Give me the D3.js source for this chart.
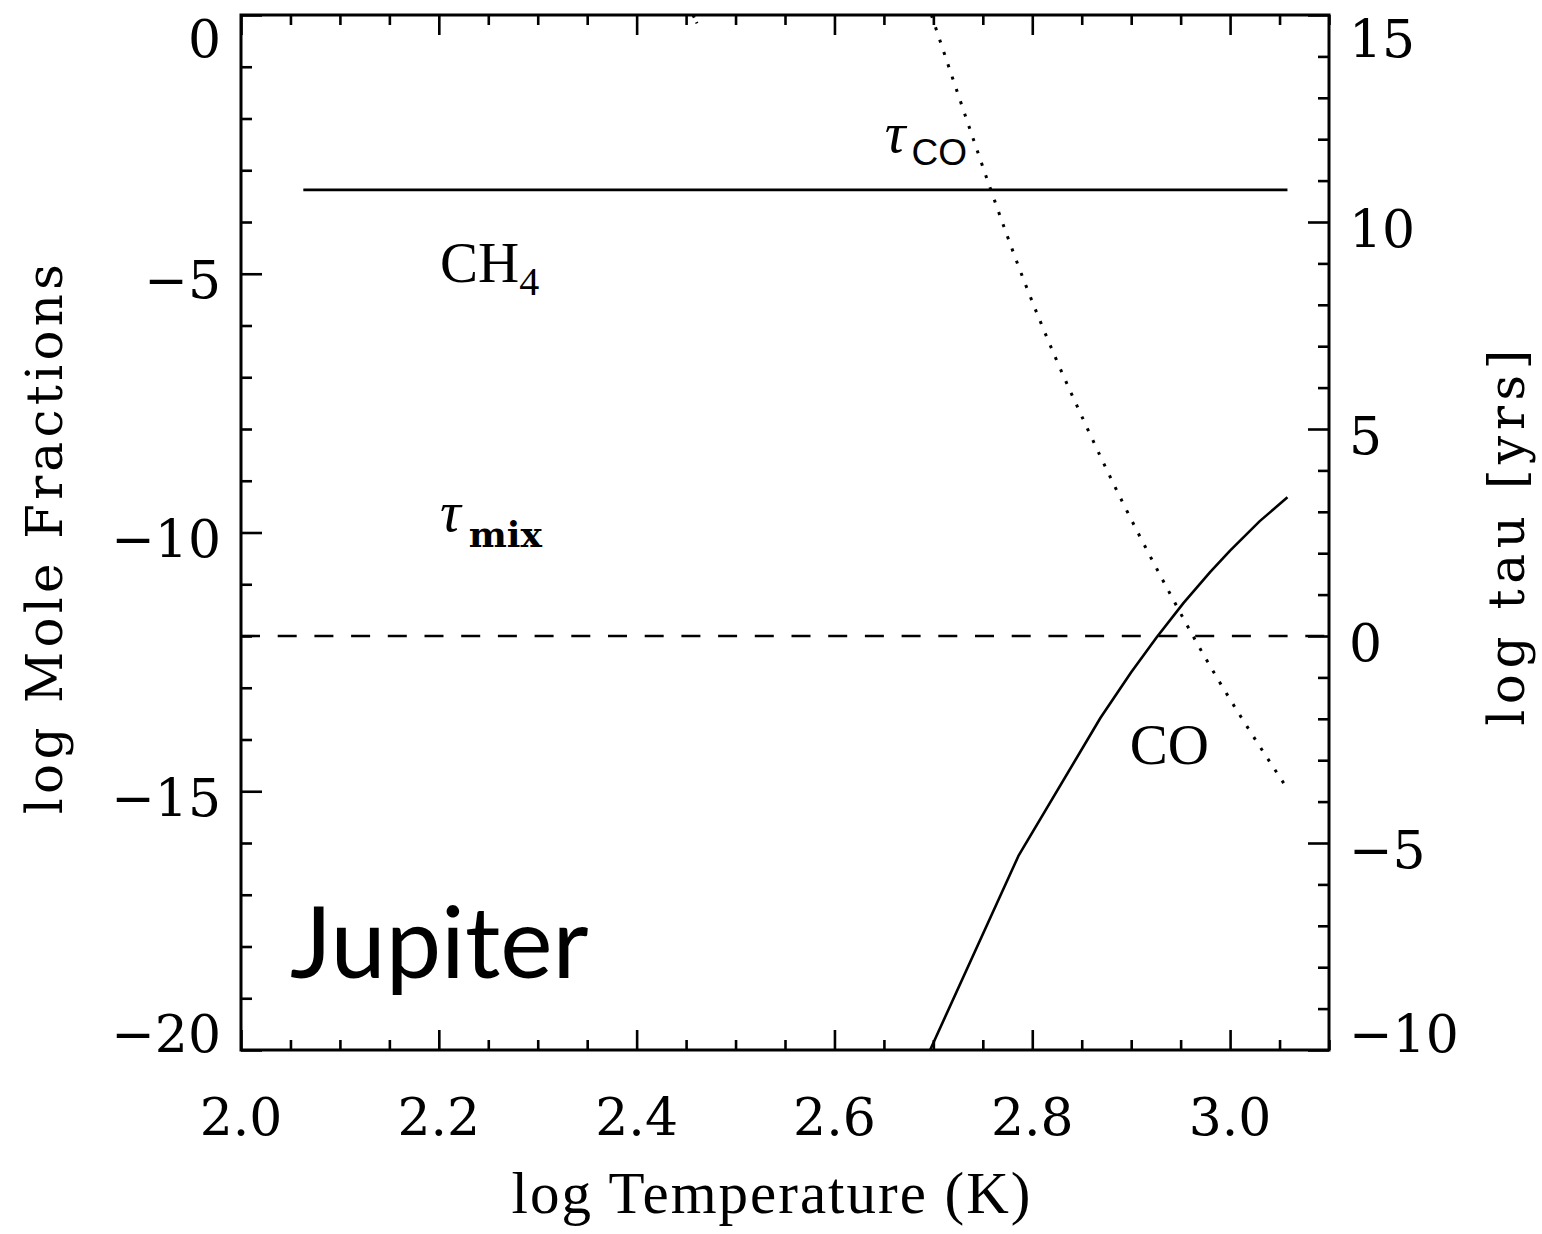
<!DOCTYPE html>
<html>
<head>
<meta charset="utf-8">
<script src="https://cdn.jsdelivr.net/npm/d3@7"></script>
<style>
  html, body { margin: 0; padding: 0; background: #fff; }
  svg { display: block; }
</style>
</head>
<body>
<svg id="chart" width="1542" height="1234"></svg>
<script>
// log T grid and mole fractions / timescales
const ch4T = [2.063, 3.058];
const ch4Frac = [-3.38, -3.38];

const coT = [2.6967, 2.786, 2.869, 2.900, 2.926, 2.953, 2.980, 3.000, 3.030, 3.058];
const coFrac = [-20.0, -16.25, -13.58, -12.70, -12.02, -11.36, -10.76, -10.35, -9.78, -9.32];

const tauCoT = [2.698, 2.744, 2.757, 2.793, 2.823, 2.855, 2.876, 2.942, 2.966, 3.056];
const tauCoLog = [15.0, 11.75, 10.85, 8.50, 6.75, 5.05, 3.98, 0.90, -0.15, -3.62];

const tauCh4T = [2.457, 2.461];
const tauCh4Log = [15.0, 14.8];

const tauMixT = [2.0, 3.1];
const tauMixLog = [0, 0];

const xTicks = [2.0, 2.2, 2.4, 2.6, 2.8, 3.0];
const xTickLabels = ["2.0", "2.2", "2.4", "2.6", "2.8", "3.0"];
const yLeftTicks = [0, -5, -10, -15, -20];
const yLeftLabels = ["0", "\u22125", "\u221210", "\u221215", "\u221220"];
const yRightTicks = [15, 10, 5, 0, -5, -10];
const yRightLabels = ["15", "10", "5", "0", "\u22125", "\u221210"];

const svg = d3.select("#chart");
const L = 241, R = 1329, T = 15, B = 1050;

const x = d3.scaleLinear().domain([2.0, 3.1]).range([L, R]);
const yL = d3.scaleLinear().domain([-20, 0]).range([B, T]);
const yR = d3.scaleLinear().domain([-10, 15]).range([B, T]);

svg.append("rect").attr("width", 1542).attr("height", 1234).attr("fill", "#fff");

svg.append("defs").append("clipPath").attr("id", "plotclip")
  .append("rect").attr("x", L).attr("y", T).attr("width", R - L).attr("height", B - T);

const tickFont = "'DejaVu Serif', serif";
const eps = 1e-9;
const xMinor = d3.range(2.0, 3.1 + eps, 0.05).filter(v => Math.abs(v / 0.2 - Math.round(v / 0.2)) > 1e-6);
const yLMinor = d3.range(-20, 0 + eps, 1).filter(v => v % 5 !== 0);
const yRMinor = d3.range(-10, 15 + eps, 1).filter(v => v % 5 !== 0);

function styleAxis(g) {
  g.select(".domain").remove();
  g.selectAll(".tick line").attr("stroke", "#000").attr("stroke-width", 2.6);
  g.selectAll(".tick text").remove();
}

// bottom and top axes (ticks inward)
svg.append("g").attr("transform", `translate(0,${B})`)
  .call(d3.axisBottom(x).tickValues(xTicks).tickSize(-20)).call(styleAxis);
svg.append("g").attr("transform", `translate(0,${B})`)
  .call(d3.axisBottom(x).tickValues(xMinor).tickSize(-10)).call(styleAxis);
svg.append("g").attr("transform", `translate(0,${T})`)
  .call(d3.axisTop(x).tickValues(xTicks).tickSize(-20)).call(styleAxis);
svg.append("g").attr("transform", `translate(0,${T})`)
  .call(d3.axisTop(x).tickValues(xMinor).tickSize(-10)).call(styleAxis);

// left axis (mole fractions)
svg.append("g").attr("transform", `translate(${L},0)`)
  .call(d3.axisLeft(yL).tickValues(yLeftTicks).tickSize(-21)).call(styleAxis);
svg.append("g").attr("transform", `translate(${L},0)`)
  .call(d3.axisLeft(yL).tickValues(yLMinor).tickSize(-11)).call(styleAxis);

// right axis (timescales)
svg.append("g").attr("transform", `translate(${R},0)`)
  .call(d3.axisRight(yR).tickValues(yRightTicks).tickSize(-21)).call(styleAxis);
svg.append("g").attr("transform", `translate(${R},0)`)
  .call(d3.axisRight(yR).tickValues(yRMinor).tickSize(-11)).call(styleAxis);

// frame
svg.append("rect").attr("x", L).attr("y", T).attr("width", R - L).attr("height", B - T)
  .attr("fill", "none").attr("stroke", "#000").attr("stroke-width", 3);

// tick labels, end labels kept inside the frame height
const clampY = v => Math.max(T + 22, Math.min(B - 18, v + 5)) + 19.5;

svg.append("g").selectAll("text").data(xTicks).join("text")
  .attr("x", d => x(d)).attr("y", 1135)
  .attr("text-anchor", "middle")
  .style("font-family", tickFont).style("font-size", "52px")
  .text((d, i) => xTickLabels[i]);

svg.append("g").selectAll("text").data(yLeftTicks).join("text")
  .attr("x", 221).attr("y", d => clampY(yL(d)))
  .attr("text-anchor", "end")
  .style("font-family", tickFont).style("font-size", "52px")
  .text((d, i) => yLeftLabels[i]);

svg.append("g").selectAll("text").data(yRightTicks).join("text")
  .attr("x", 1349).attr("y", d => clampY(yR(d)))
  .attr("text-anchor", "start")
  .style("font-family", tickFont).style("font-size", "52px")
  .text((d, i) => yRightLabels[i]);

// axis titles
svg.append("text")
  .attr("x", (L + R) / 2 - 13).attr("y", 1213)
  .attr("text-anchor", "middle")
  .style("font-family", "'Liberation Serif', 'Times New Roman', serif")
  .style("font-size", "59px").style("letter-spacing", "2px")
  .text("log Temperature (K)");

svg.append("text")
  .attr("transform", "translate(62,537) rotate(-90)")
  .attr("text-anchor", "middle")
  .style("font-family", tickFont).style("font-size", "50px").style("letter-spacing", "4.3px")
  .text("log Mole Fractions");

svg.append("text")
  .attr("transform", "translate(1524,535) rotate(-90)")
  .attr("text-anchor", "middle")
  .style("font-family", tickFont).style("font-size", "50px").style("letter-spacing", "5.6px")
  .text("log tau [yrs]");

// data curves
const plot = svg.append("g").attr("clip-path", "url(#plotclip)");
const lineL = d3.line().x(d => x(d[0])).y(d => yL(d[1]));
const lineR = d3.line().x(d => x(d[0])).y(d => yR(d[1]));
const lineRsmooth = d3.line().x(d => x(d[0])).y(d => yR(d[1])).curve(d3.curveMonotoneX);

plot.append("path").datum(d3.zip(ch4T, ch4Frac))
  .attr("d", lineL).attr("fill", "none").attr("stroke", "#000").attr("stroke-width", 2.6);

plot.append("path").datum(d3.zip(coT, coFrac))
  .attr("d", lineL).attr("fill", "none").attr("stroke", "#000").attr("stroke-width", 2.6)
  .attr("stroke-linejoin", "round");

plot.append("path").datum(d3.zip(tauMixT, tauMixLog))
  .attr("d", lineR).attr("fill", "none").attr("stroke", "#000").attr("stroke-width", 2.6)
  .attr("stroke-dasharray", "19 17.7");

plot.append("path").datum(d3.zip(tauCoT, tauCoLog))
  .attr("d", lineRsmooth).attr("fill", "none").attr("stroke", "#000").attr("stroke-width", 3)
  .attr("stroke-dasharray", "3 10");

plot.append("path").datum(d3.zip(tauCh4T, tauCh4Log))
  .attr("d", lineR).attr("fill", "none").attr("stroke", "#000").attr("stroke-width", 3)
  .attr("stroke-dasharray", "3 5");

// curve annotations
const serif = "'Liberation Serif', 'Times New Roman', serif";

const ch4Label = svg.append("text").attr("x", x(2.2012)).attr("y", yL(-5.16))
  .style("font-family", serif).style("font-size", "57px");
ch4Label.append("tspan").text("CH");
ch4Label.append("tspan").attr("dy", 13).style("font-size", "40px").text("4");

const tauMixLabel = svg.append("text").attr("x", x(2.2012)).attr("y", yL(-9.98))
  .style("font-family", serif).style("font-size", "58px");
tauMixLabel.append("tspan").style("font-style", "italic").text("\u03C4");
tauMixLabel.append("tspan").attr("dx", 8).attr("dy", 16)
  .style("font-family", tickFont).style("font-weight", "bold").style("font-size", "36px").text("mix");

const tauCoLabel = svg.append("text").attr("x", x(2.6508)).attr("y", yR(11.7))
  .style("font-family", serif).style("font-size", "58px");
tauCoLabel.append("tspan").style("font-style", "italic").text("\u03C4");
tauCoLabel.append("tspan").attr("dx", 6).attr("dy", 13)
  .style("font-family", "'Liberation Sans', Arial, sans-serif").style("font-size", "37px").text("CO");

svg.append("text").attr("x", x(2.8985)).attr("y", yL(-14.47))
  .style("font-family", serif).style("font-size", "57px").text("CO");

svg.append("text").attr("x", 290).attr("y", 978)
  .style("font-family", "Lato, 'Open Sans', sans-serif").style("font-size", "99px")
  .text("Jupiter");
</script>
</body>
</html>
